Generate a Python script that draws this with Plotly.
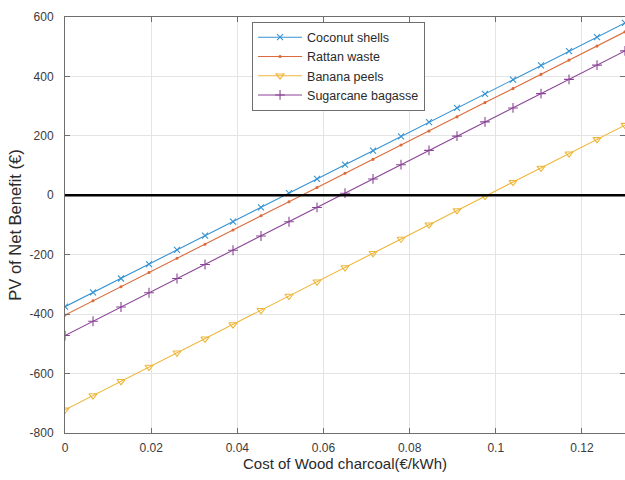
import plotly.graph_objects as go

# Cost of wood charcoal (EUR/kWh), 21 evaluation points
cost = [0.0, 0.0065, 0.013, 0.0195, 0.026, 0.0325, 0.039, 0.0455, 0.052, 0.0585,
        0.065, 0.0715, 0.078, 0.0845, 0.091, 0.0975, 0.104, 0.1105, 0.117, 0.1235, 0.13]

# Present value of net benefit (EUR) per feedstock
coconut_shells = [-375, -327, -280, -232, -184, -136, -89, -41, 7, 55, 103,
                  150, 198, 246, 294, 341, 389, 437, 485, 532, 580]
rattan_waste = [-403, -355, -308, -260, -212, -165, -117, -69, -22, 26, 74,
                121, 169, 216, 264, 312, 359, 407, 455, 502, 550]
banana_peels = [-722, -674, -626, -578, -530, -483, -435, -387, -339, -291, -243,
                -195, -147, -99, -51, -3, 44, 92, 140, 188, 236]
sugarcane_bagasse = [-472, -424, -376, -328, -280, -233, -185, -137, -89, -41, 7,
                     55, 103, 151, 199, 247, 294, 342, 390, 438, 486]

y_tick_vals = [-800, -600, -400, -200, 0, 200, 400, 600]
y_tick_text = ["-800", "-600", "-400", "-200", "0", "200", "400", "600"]
x_tick_vals = [0, 0.02, 0.04, 0.06, 0.08, 0.1, 0.12]
x_tick_text = ["0", "0.02", "0.04", "0.06", "0.08", "0.1", "0.12"]

FONT = "Liberation Sans, Arial, sans-serif"

series = [
    ("Coconut shells", coconut_shells, "#3592d2", dict(symbol="x-thin-open", size=6)),
    ("Rattan waste", rattan_waste, "#dc6a3a", dict(symbol="circle", size=2)),
    ("Banana peels", banana_peels, "#eeb638", dict(symbol="triangle-down-open", size=7)),
    ("Sugarcane bagasse", sugarcane_bagasse, "#8a4396", dict(symbol="cross-thin-open", size=7)),
]

fig = go.Figure()
for name, vals, color, mk in series:
    fig.add_trace(go.Scatter(
        x=cost, y=vals, name=name, mode="lines+markers",
        line=dict(color=color, width=1.1),
        marker=dict(color=color, line=dict(color=color, width=1.1), **mk),
    ))

# break-even reference line
fig.add_hline(y=0, line=dict(color="black", width=2.5), layer="above")

axis_common = dict(
    showline=True, linecolor="#6e6e6e", linewidth=1, mirror="ticks",
    ticks="inside", ticklen=5, tickcolor="#6e6e6e",
    showgrid=True, gridcolor="#e4e4e4", gridwidth=1, zeroline=False,
    tickfont=dict(family=FONT, size=12, color="#3a3a3a"),
)

fig.update_xaxes(
    range=[0, 0.13], tickvals=x_tick_vals, ticktext=x_tick_text,
    ticklabelstandoff=4,
    title=dict(text="Cost of Wood charcoal(€/kWh)", standoff=3,
               font=dict(family=FONT, size=15, color="#2a2a2a")),
    **axis_common,
)
fig.update_yaxes(
    range=[-800, 600], tickvals=y_tick_vals, ticktext=y_tick_text,
    ticklabelstandoff=8,
    title=dict(text="PV of Net Benefit (€)", standoff=3,
               font=dict(family=FONT, size=16.5, color="#2a2a2a")),
    **axis_common,
)

fig.update_layout(
    width=625, height=480,
    margin=dict(l=65, r=0, t=17, b=47),
    paper_bgcolor="white", plot_bgcolor="white",
    showlegend=True,
    legend=dict(
        x=0.334, y=0.989, xanchor="left", yanchor="top",
        bgcolor="white", bordercolor="#6e6e6e", borderwidth=1,
        font=dict(family=FONT, size=12.5, color="#2a2a2a"),
        tracegroupgap=0, itemwidth=44,
    ),
)

fig.write_html("out.html")
